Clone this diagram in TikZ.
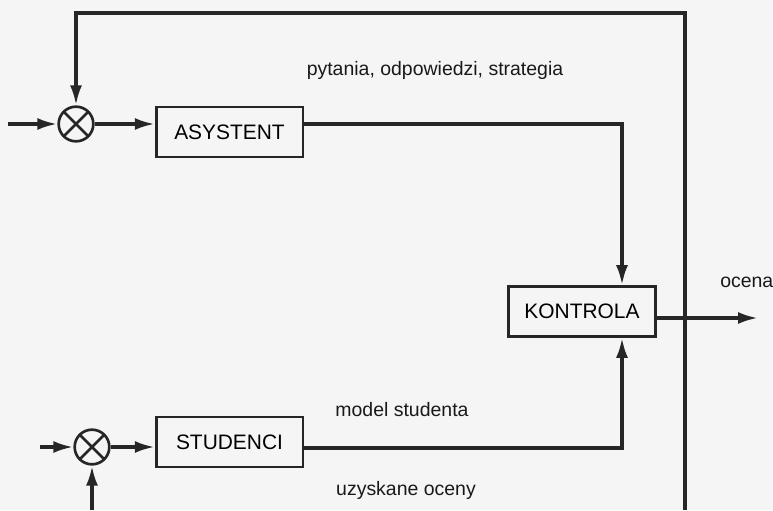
\documentclass[tikz,border=0pt]{standalone}
\usepackage{fontspec}
\setmainfont{Liberation Sans}
\usetikzlibrary{arrows.meta,positioning}

\tikzset{
  blok/.style={draw=black!85, line width=2pt, minimum width=110pt, minimum height=37.5pt, inner sep=0pt, font=\fontsize{15.7}{18}\selectfont},
  sumator/.style={draw=black!85, circle, line width=2pt, minimum size=26pt, inner sep=0pt,
    path picture={\draw[line width=2pt, black!85] (path picture bounding box.north west) -- (path picture bounding box.south east)
      (path picture bounding box.north east) -- (path picture bounding box.south west);}},
  opis/.style={inner sep=0pt, text=black!90, font=\fontsize{14.6}{17}\selectfont},
  linia/.style={draw=black!85, line width=2.5pt},
  strz/.style={linia, -{Latex[length=15pt,width=9pt]}}
}

\begin{document}
\begin{tikzpicture}[x=0.75pt,y=0.75pt,yscale=-1,xscale=1]
    % background of the scanned page
    \fill[black!4] (0,0) rectangle (773,510);
    \useasboundingbox (0,0) rectangle (773,510);

    % Blocks
    \node[sumator] (sumA) at (76,124) {};
    \node[blok] (asystent) at (229.5,132) {ASYSTENT};
    \node[blok] (kontrola) at (582,311.5) {KONTROLA};
    \node[sumator] (sumS) at (92,447) {};
    \node[blok] (studenci) at (229.5,442) {STUDENCI};

    % free ends
    \coordinate (wejA) at (8,124);
    \coordinate (wejS) at (40,447);
    \coordinate (wyj) at (758,318);
    \coordinate (wezel) at (685,318);
    \coordinate (dolP) at (685,510);
    \coordinate (dolS) at (92,510);

    % Top loop
    \draw[strz] (wejA) -- (sumA);
    \draw[strz] (sumA) -- (sumA -| asystent.west);
    \draw[strz] (sumA -| asystent.east) -- (622,124) -- (622,124 |- kontrola.north);
    \draw[strz] (wezel) -- (685,13) -- (sumA.center |- 0,13) -- (sumA);

    % Output
    \draw[strz] (kontrola.east |- wyj) -- (wyj);
    \draw[linia] (wezel) -- (dolP);
    \fill[black!85] (wezel) circle (3);

    % Bottom loop
    \draw[strz] (wejS) -- (sumS);
    \draw[strz] (dolS) -- (sumS);
    \draw[strz] (sumS) -- (sumS -| studenci.west);
    \draw[strz] (studenci.east |- 0,448) -- (622,448) -- (622,448 |- kontrola.south);

    % Text Nodes
    \node[opis] (lPytania) at (435,70) {pytania, odpowiedzi, strategia};
    \node[opis, anchor=west] (lOcena) at (720,282) {ocena};
    \node[opis] (lModel) at (402,410) {model studenta};
    \node[opis] (lOceny) at (406,490) {uzyskane oceny};
\end{tikzpicture}
\end{document}
